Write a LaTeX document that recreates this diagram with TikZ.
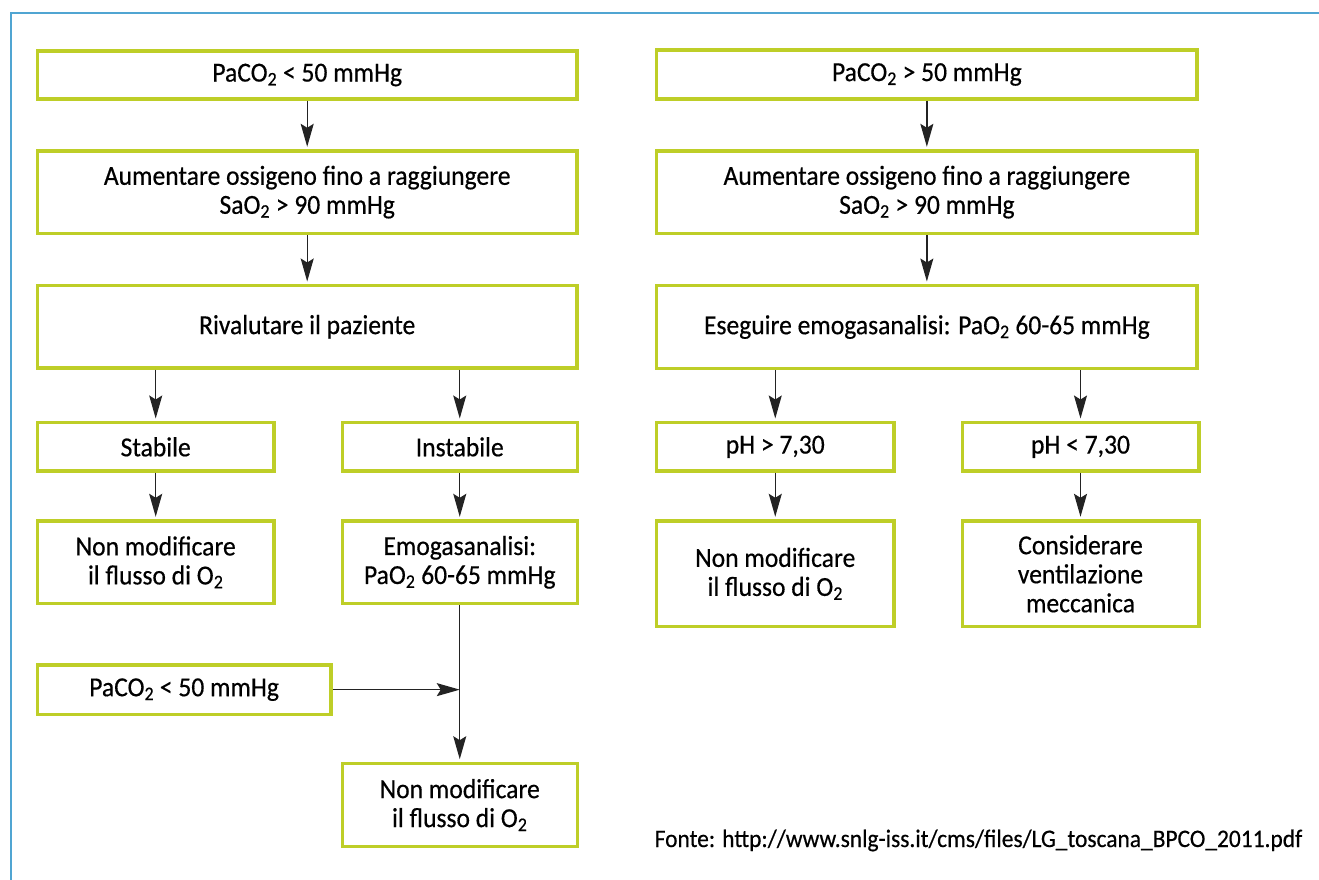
\documentclass[tikz,border=0pt]{standalone}
\usepackage{fontspec}
\setmainfont{Carlito}[FakeStretch=0.93, FakeBold=0.45]
\usetikzlibrary{arrows.meta}
\definecolor{boxgreen}{RGB}{190,206,40}
\definecolor{framecol}{RGB}{80,165,210}
\definecolor{linecol}{RGB}{35,35,35}
\tikzset{
  box/.style={draw=boxgreen, line width=3.4pt, inner sep=0pt, align=center,
    fill=white, font=\fontsize{27.5}{29}\selectfont},
  arr/.style={draw=linecol, line width=1.3pt, shorten >=2.5pt,
    -{Stealth[length=23pt,width=13pt,inset=4pt]}}
}
\begin{document}
\begin{tikzpicture}[x=1pt,y=-1pt]
\useasboundingbox (0,0) rectangle (1319,880);
\draw[framecol, line width=2pt] (10.5,880) -- (10.5,13.3) -- (1319,13.3);

% left column
\node[box, minimum width=539.6pt, minimum height=48pt] (l1) at (307.2,75) {PaCO\textsubscript{2} < 50 mmHg};
\node[box, minimum width=539.6pt, minimum height=82.3pt] (l2) at (307.2,192.15) {Aumentare ossigeno fino a raggiungere\\SaO\textsubscript{2} > 90 mmHg};
\node[box, minimum width=539.6pt, minimum height=82.1pt] (l3) at (307.2,326.75) {Rivalutare il paziente};
\node[box, minimum width=236.6pt, minimum height=48.3pt] (stab) at (155.7,446.85) {Stabile};
\node[box, minimum width=235.1pt, minimum height=48.3pt] (instab) at (459.75,446.85) {Instabile};
\node[box, minimum width=236.6pt, minimum height=82.6pt] (nm1) at (155.7,562.3) {Non modificare\\il flusso di O\textsubscript{2}};
\node[box, minimum width=235.1pt, minimum height=82.6pt] (emog) at (459.75,562.3) {Emogasanalisi:\\PaO\textsubscript{2} 60-65 mmHg};
\node[box, minimum width=293.4pt, minimum height=49.3pt] (plow) at (184.1,689.65) {PaCO\textsubscript{2} < 50 mmHg};
\node[box, minimum width=235.1pt, minimum height=83.2pt] (nm2) at (459.75,805) {Non modificare\\il flusso di O\textsubscript{2}};

% right column
\node[box, minimum width=540.3pt, minimum height=49pt] (r1) at (926.85,74.5) {PaCO\textsubscript{2} > 50 mmHg};
\node[box, minimum width=540.3pt, minimum height=82.3pt] (r2) at (926.85,192.15) {Aumentare ossigeno fino a raggiungere\\SaO\textsubscript{2} > 90 mmHg};
\node[box, minimum width=540.3pt, minimum height=82.6pt] (r3) at (926.85,327) {Eseguire emogasanalisi: PaO\textsubscript{2} 60-65 mmHg};
\node[box, minimum width=237.1pt, minimum height=48.3pt] (phgt) at (775.25,446.85) {pH > 7,30};
\node[box, minimum width=236.6pt, minimum height=48.3pt] (phlt) at (1080.5,446.85) {pH < 7,30};
\node[box, minimum width=237.1pt, minimum height=105.6pt] (nm3) at (775.25,573.8) {Non modificare\\il flusso di O\textsubscript{2}};
\node[box, minimum width=236.6pt, minimum height=105.6pt] (cons) at (1080.5,573.8) {Considerare\\ventilazione\\meccanica};

% footer
\node[anchor=base west, inner sep=0pt, font=\fontsize{25.2}{28}\selectfont] (src) at (654.5,847) {Fonte: http://www.snlg-iss.it/cms/files/LG\_toscana\_BPCO\_2011.pdf};

% connectors
\draw[arr] (l1.south) -- (l2.north);
\draw[arr] (l2.south) -- (l3.north);
\draw[arr] (l3.south -| stab) -- (stab.north);
\draw[arr] (l3.south -| instab) -- (instab.north);
\draw[arr] (stab.south) -- (nm1.north);
\draw[arr] (instab.south) -- (emog.north);
\draw[arr] (emog.south) -- (nm2.north);
\coordinate (j) at (emog.south |- plow.east);
\draw[arr, shorten >=0pt] (plow.east) -- (j);

\draw[arr] (r1.south) -- (r2.north);
\draw[arr] (r2.south) -- (r3.north);
\draw[arr] (r3.south -| phgt) -- (phgt.north);
\draw[arr] (r3.south -| phlt) -- (phlt.north);
\draw[arr] (phgt.south) -- (nm3.north);
\draw[arr] (phlt.south) -- (cons.north);
\end{tikzpicture}
\end{document}
